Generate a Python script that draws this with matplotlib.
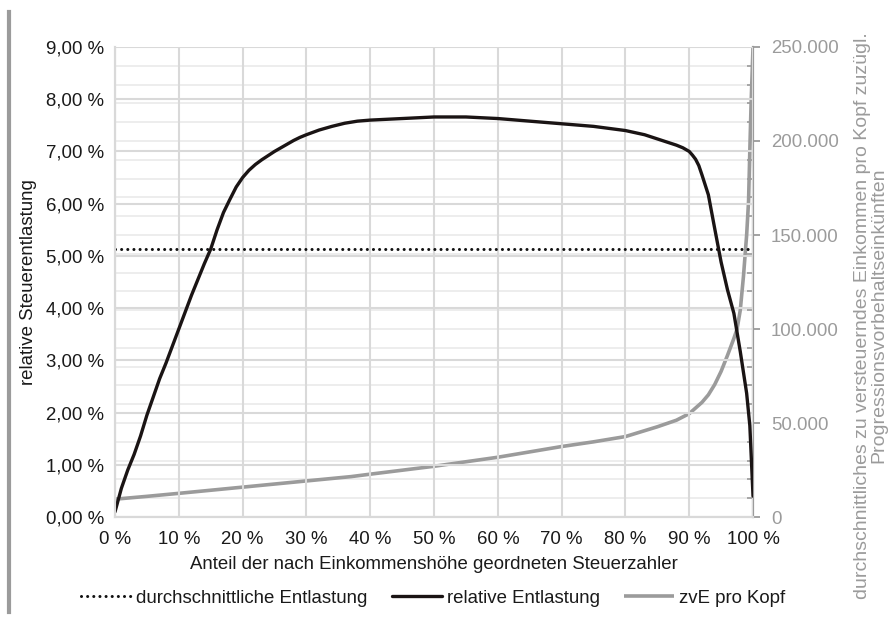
import matplotlib
matplotlib.use("Agg")
import matplotlib.pyplot as plt
from matplotlib.ticker import FuncFormatter, MultipleLocator
from matplotlib.lines import Line2D

plt.rcParams['font.family'] = ['Liberation Sans', 'DejaVu Sans']

# --- data ---
share_rel = [0, 1, 2, 3, 4, 5, 6, 7, 8, 10, 12, 14, 15, 16, 17, 18, 19, 20, 21, 22, 23, 24,
             25, 26, 27, 28, 29, 30, 32, 34, 36, 38, 40, 45, 50, 55, 60, 65, 70, 75, 80, 83,
             86, 88, 89, 90, 90.5, 91, 91.5, 92, 93, 94, 95, 96, 97, 98, 99, 99.5, 100]
rel_relief = [0.10, 0.55, 0.90, 1.20, 1.55, 1.95, 2.30, 2.65, 2.95, 3.60, 4.25, 4.85, 5.13,
              5.50, 5.83, 6.08, 6.32, 6.50, 6.64, 6.75, 6.84, 6.92, 7.00, 7.07, 7.14, 7.21,
              7.27, 7.32, 7.41, 7.48, 7.54, 7.58, 7.60, 7.63, 7.66, 7.66, 7.63, 7.58, 7.53,
              7.48, 7.40, 7.32, 7.20, 7.12, 7.07, 7.00, 6.93, 6.85, 6.73, 6.55, 6.17, 5.52,
              4.88, 4.35, 3.90, 3.17, 2.37, 1.75, 0.40]

avg_relief = 5.13

share_zve = [0, 5, 10, 20, 30, 37, 40, 50, 60, 70, 75, 80, 85, 88, 90, 92, 93, 94, 95, 96,
             97, 97.5, 98, 98.5, 99, 99.3, 99.5, 99.7, 100]
zve = [9500, 11000, 12600, 15900, 19200, 21500, 22800, 27000, 31800, 37500, 40000, 42800,
       48000, 51500, 55000, 61000, 65000, 70500, 77500, 86000, 95000, 100000, 110000,
       128000, 150000, 168000, 195000, 220000, 250000]

x_ticks = list(range(0, 101, 10))
y_left_ticks = list(range(0, 10))
y_right_ticks = [0, 50000, 100000, 150000, 200000, 250000]

labels = ["durchschnittliche Entlastung", "relative Entlastung", "zvE pro Kopf"]
xlabel = "Anteil der nach Einkommenshöhe geordneten Steuerzahler"
ylabel_left = "relative Steuerentlastung"
ylabel_right = ("durchschnittliches zu versteuerndes Einkommen pro Kopf zuzügl.\n"
                "Progressionsvorbehaltseinkünften")

FS = 13.4
GRAY = '#9b9b9b'
GRID = '#d9d9d9'
GRID2 = '#ececec'
TXT = '#1a1a1a'

fig = plt.figure(figsize=(8.88, 6.29), dpi=100)
ax = fig.add_axes([0.1295, 0.178, 0.7185, 0.7473])
ax2 = ax.twinx()

ax.set_zorder(2)
ax.patch.set_visible(False)
ax2.set_zorder(1)

# secondary axis grid (lightest)
ax2.set_ylim(0, 250000)
ax2.yaxis.set_major_locator(plt.FixedLocator(y_right_ticks))
ax2.yaxis.set_minor_locator(MultipleLocator(10000))
ax2.grid(True, which='minor', axis='y', color=GRID2, lw=1.3)
ax2.grid(True, which='major', axis='y', color=GRID2, lw=1.3)

ax.set_xlim(0, 100)
ax.set_ylim(0, 9)
ax.set_xticks(x_ticks)
ax.set_yticks(y_left_ticks)
ax.grid(True, which='major', color=GRID, lw=1.5)
ax.set_axisbelow(True)

ax.xaxis.set_major_formatter(FuncFormatter(lambda v, p: f"{int(v)} %"))
ax.yaxis.set_major_formatter(FuncFormatter(lambda v, p: f"{v:.2f}".replace('.', ',') + " %"))
ax2.yaxis.set_major_formatter(FuncFormatter(lambda v, p: f"{int(v):,}".replace(',', '.')))

ax.tick_params(axis='both', length=0, labelsize=FS, colors=TXT)
ax.tick_params(axis='x', pad=10)
ax.tick_params(axis='y', pad=8)
ax2.tick_params(axis='y', which='major', direction='out', length=5, width=1.3,
                color=GRAY, labelcolor=GRAY, labelsize=FS, pad=8)
ax2.tick_params(axis='y', which='minor', direction='in', length=4, width=1.2, color=GRAY)

for a in (ax, ax2):
    a.spines['top'].set_visible(False)
    a.spines['left'].set_color(GRID)
    a.spines['bottom'].set_color(GRID)
    a.spines['left'].set_linewidth(1.5)
    a.spines['bottom'].set_linewidth(1.5)
    a.spines['right'].set_visible(False)
ax2.spines['right'].set_visible(True)
ax2.spines['right'].set_color(GRAY)
ax2.spines['right'].set_linewidth(1.6)

# lines
l_zve, = ax2.plot(share_zve, zve, color=GRAY, lw=2.6, solid_capstyle='butt', label=labels[2])
l_avg = ax.axhline(avg_relief, color='#111111', lw=2.2, linestyle=(0, (0.01, 2.0)),
                   dash_capstyle='round', label=labels[0])
l_rel, = ax.plot(share_rel, rel_relief, color='#1a1414', lw=2.4, solid_capstyle='round',
                 solid_joinstyle='round', label=labels[1])

ax.set_xlabel(xlabel, fontsize=FS, labelpad=6, color=TXT)
ax.set_ylabel(ylabel_left, fontsize=FS, labelpad=6, color=TXT)

fig.text(0.981, 0.499, ylabel_right, rotation=90, ha='center', va='center',
         multialignment='center', fontsize=14.0, color=GRAY, linespacing=0.95)

leg = fig.legend([l_avg, l_rel, l_zve], labels, loc='center', bbox_to_anchor=(0.488, 0.049),
                 ncol=3, frameon=False, fontsize=FS, handlelength=2.7, handletextpad=0.25,
                 columnspacing=1.3, labelcolor=TXT)

# decorative page bar at the left
fig.add_artist(Line2D([0.0106, 0.0106], [1 - 12 / 629, 1 - 612 / 629],
                      transform=fig.transFigure, color=GRAY, lw=3))

fig.savefig("out.png", dpi=100)
